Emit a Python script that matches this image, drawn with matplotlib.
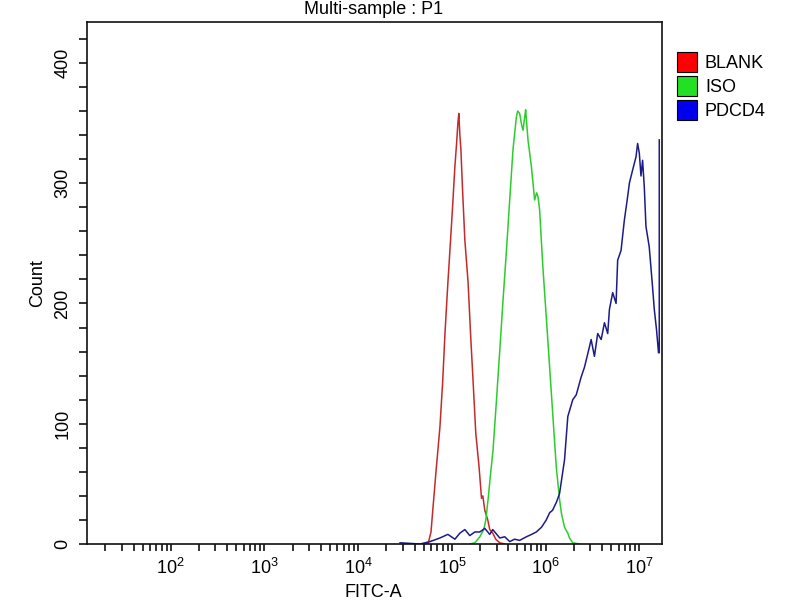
import numpy as np
import matplotlib
matplotlib.use("Agg")
import matplotlib.pyplot as plt
from matplotlib.patches import Patch
from matplotlib.ticker import MultipleLocator, LogLocator

plt.rcParams['font.family'] = ['Liberation Sans', 'DejaVu Sans']
plt.rcParams['mathtext.fontset'] = 'custom'
plt.rcParams['mathtext.rm'] = 'Liberation Sans'

# ---- data (log10 of FITC-A channel, count) ----
blank_log10 = [4.72, 4.745, 4.777, 4.798, 4.830, 4.872, 4.901, 4.926, 4.957, 4.986,
               5.007, 5.032, 5.050, 5.064, 5.074, 5.085, 5.096, 5.114, 5.138, 5.173,
               5.199, 5.227, 5.255, 5.290, 5.316, 5.330, 5.351, 5.383, 5.404, 5.436,
               5.468, 5.511, 5.564]
blank_count = [0, 0, 10, 30, 60, 97, 134, 175, 217, 253,
               280, 314, 333, 350, 358, 340, 328, 294, 253, 217,
               175, 134, 92, 64, 38, 40, 28, 20, 12, 9,
               4, 1, 0]

iso_log10 = [5.191, 5.245, 5.298, 5.340, 5.362, 5.386, 5.415, 5.439, 5.476, 5.511,
             5.546, 5.582, 5.617, 5.652, 5.688, 5.702, 5.723, 5.745, 5.759, 5.777,
             5.787, 5.798, 5.812, 5.848, 5.883, 5.904, 5.918, 5.936, 5.971, 6.007,
             6.043, 6.078, 6.114, 6.149, 6.170, 6.202, 6.237, 6.255, 6.290, 6.362]
iso_count = [0, 1, 6, 12, 20, 37, 60, 78, 120, 161,
             203, 244, 286, 328, 355, 360, 358, 348, 344, 355,
             361, 350, 336, 314, 286, 292, 289, 278, 230, 189,
             147, 106, 64, 37, 25, 14, 9, 5, 1, 0]

pdcd4_log10 = [4.447, 4.660, 4.766, 4.872, 4.957, 5.032, 5.085, 5.138, 5.191, 5.245,
               5.298, 5.351, 5.404, 5.436, 5.511, 5.564, 5.617, 5.670, 5.723, 5.795,
               5.851, 5.901, 5.957, 6.007, 6.043, 6.074, 6.117, 6.149, 6.202, 6.237,
               6.290, 6.327, 6.380, 6.415, 6.468, 6.486, 6.521, 6.556, 6.593, 6.628,
               6.663, 6.681, 6.716, 6.752, 6.769, 6.805, 6.840, 6.876, 6.894, 6.929,
               6.965, 6.982, 7.000, 7.018, 7.035, 7.053, 7.071, 7.106, 7.141, 7.160,
               7.184, 7.205, 7.213, 7.213]
pdcd4_count = [1, 0, 2, 5, 8, 4, 9, 12, 7, 10,
               10, 13, 8, 12, 5, 6, 2, 4, 3, 6,
               8, 10, 14, 20, 26, 28, 35, 42, 70, 106,
               120, 124, 139, 147, 164, 170, 156, 175, 170, 184,
               175, 195, 209, 200, 236, 244, 269, 289, 300, 311,
               322, 333, 325, 306, 319, 297, 264, 247, 214, 195,
               178, 159, 159, 336]

series_names = ["BLANK", "ISO", "PDCD4"]
line_colors = ["#c42a2a", "#2ccc2c", "#1c1c86"]
legend_colors = ["#ff0000", "#22e022", "#0000ee"]

x_major_exp = [2, 3, 4, 5, 6, 7]
y_major = [0, 100, 200, 300, 400]

fig = plt.figure(figsize=(8, 6), dpi=100)
ax = fig.add_axes([86.7/800, 1-544/600, (661.7-86.7)/800, (544-22)/600])

for lx, cnt, col in zip([blank_log10, iso_log10, pdcd4_log10],
                        [blank_count, iso_count, pdcd4_count], line_colors):
    ax.plot(10**np.array(lx), cnt, color=col, lw=1.1)

ax.set_xscale('log')
ax.set_xlim(10**1.1026, 10**7.239)
ax.set_ylim(0, 434)

ax.set_xticks([10.0**e for e in x_major_exp])
ax.set_xticklabels([r'$\mathdefault{10^{%d}}$' % e for e in x_major_exp])
ax.xaxis.set_minor_locator(LogLocator(base=10, subs=np.arange(2, 10), numticks=20))
ax.xaxis.set_minor_formatter(plt.NullFormatter())
ax.set_yticks(y_major)
ax.set_yticklabels([str(v) for v in y_major])
ax.yaxis.set_minor_locator(MultipleLocator(20))

ax.tick_params(axis='both', which='both', direction='out', width=1.2, color='#111111')
ax.tick_params(axis='x', which='both', length=5, pad=5, labelsize=13)
ax.tick_params(axis='y', which='both', length=6, pad=5, labelsize=13)
for lab in ax.get_yticklabels():
    lab.set_rotation(90)
    lab.set_va('center')
for sp in ax.spines.values():
    sp.set_linewidth(1.2)
    sp.set_color('#111111')

fig.text(374/800, 1-14/600, "Multi-sample : P1", ha='center', va='baseline', fontsize=13)
fig.text(373/800, 1-597/600, "FITC-A", ha='center', va='baseline', fontsize=13)
fig.text(38/800, 1-283/600, "Count", ha='center', va='center', rotation=90, fontsize=13)

handles = [Patch(facecolor=c, edgecolor='black', lw=0.8) for c in legend_colors]
fig.legend(handles, series_names, loc='upper left', bbox_to_anchor=(677/800, 1-52/600),
           frameon=False, fontsize=13, handlelength=1.1, handleheight=1.35,
           handletextpad=0.45, labelspacing=0.2, borderpad=0, borderaxespad=0)

fig.savefig("out.png", dpi=100)
